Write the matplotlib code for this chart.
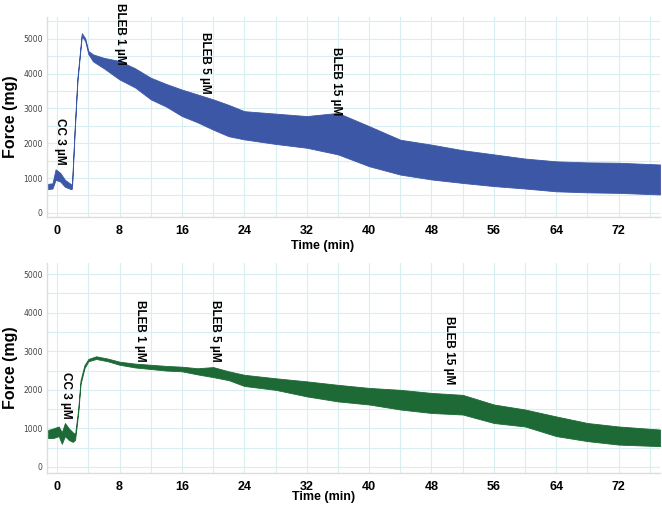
import matplotlib.pyplot as plt
from matplotlib.ticker import MultipleLocator

# top trace (blue): time (min), lower / upper envelope of the force signal (mg)
top_t = [-1.3, -0.6, -0.2, 0.4, 1.0, 1.8, 1.9, 2.23, 2.6, 3.16, 3.6, 4.0, 4.6,
         6, 8, 10, 12, 14, 16, 18, 20, 22, 24, 28, 32, 36, 40, 44, 48, 52,
         56, 60, 64, 68, 72, 77.3]
top_lo = [680, 700, 950, 900, 750, 680, 700, 2250, 3780, 5080, 4930, 4560, 4350,
          4150, 3830, 3600, 3260, 3050, 2780, 2600, 2390, 2200, 2110, 1980, 1870,
          1680, 1340, 1100, 960, 860, 770, 700, 620, 590, 575, 530]
top_hi = [830, 850, 1250, 1150, 950, 820, 800, 2350, 3880, 5160, 5010, 4650, 4550,
          4450, 4360, 4150, 3880, 3700, 3540, 3400, 3260, 3100, 2920, 2850, 2780,
          2870, 2490, 2100, 1960, 1800, 1680, 1560, 1480, 1450, 1440, 1390]

# bottom trace (green)
bot_t = [-1.3, -0.5, 0.2, 0.6, 1.0, 1.5, 2.0, 2.3, 2.7, 3.0, 3.5, 4.0, 5.0, 6.5,
         8, 10, 12, 14, 16, 18, 20, 22, 24, 28, 32, 36, 40, 44, 48, 52, 56, 60,
         64, 68, 72, 77.3]
bot_lo = [750, 750, 800, 600, 800, 700, 650, 700, 1400, 2150, 2560, 2740, 2800,
          2740, 2650, 2580, 2540, 2500, 2480, 2400, 2330, 2250, 2100, 2000, 1830,
          1700, 1620, 1490, 1400, 1360, 1140, 1050, 800, 670, 580, 540]
bot_hi = [950, 1000, 1050, 900, 1140, 1000, 900, 850, 1500, 2250, 2640, 2800, 2870,
          2810, 2730, 2680, 2650, 2620, 2600, 2560, 2590, 2480, 2390, 2300, 2220,
          2130, 2050, 2000, 1920, 1870, 1620, 1490, 1310, 1140, 1050, 970]

# drug additions: label, time, top of text (mg)
top_notes = [("CC 3 µM", 0.4, 2730), ("BLEB 1 µM", 8.1, 6030),
             ("BLEB 5 µM", 19.0, 5200), ("BLEB 15 µM", 35.8, 4770)]
bot_notes = [("CC 3 µM", 1.1, 2470), ("BLEB 1 µM", 10.6, 4330),
             ("BLEB 5 µM", 20.3, 4330), ("BLEB 15 µM", 50.3, 3910)]

BLUE = "#3b57a6"
GREEN = "#1d6a36"
GRID = "#d8eef0"
BOLD = "Liberation Sans"

fig = plt.figure(figsize=(6.62, 5.08), dpi=100)
ax1 = fig.add_axes([0.071, 0.573, 0.926, 0.394])
ax2 = fig.add_axes([0.071, 0.069, 0.926, 0.413])


def style(ax, ylim):
    ax.set_xlim(-1.3, 77.3)
    ax.set_ylim(*ylim)
    ax.xaxis.set_major_locator(MultipleLocator(8))
    ax.xaxis.set_minor_locator(MultipleLocator(4))
    ax.yaxis.set_major_locator(MultipleLocator(1000))
    ax.yaxis.set_minor_locator(MultipleLocator(500))
    ax.grid(True, which="both", color=GRID, lw=0.8)
    ax.set_axisbelow(True)
    for s in ["top", "right"]:
        ax.spines[s].set_visible(False)
    for s in ["left", "bottom"]:
        ax.spines[s].set_color("#dddddd")
        ax.spines[s].set_linewidth(1.0)
    ax.tick_params(which="both", length=0)
    ax.tick_params(axis="y", labelsize=5.5, labelcolor="#444444", pad=3)
    ax.tick_params(axis="x", pad=6)
    for lab in ax.get_xticklabels():
        lab.set_fontfamily(BOLD)
        lab.set_fontweight("bold")
        lab.set_fontsize(9)
    ax.set_ylabel("Force (mg)", fontfamily=BOLD, fontweight="bold", fontsize=11.5)
    ax.yaxis.set_label_coords(-0.048, 0.5)


style(ax1, (-115, 5630))
style(ax2, (-155, 5285))

ax1.fill_between(top_t, top_lo, top_hi, color=BLUE, lw=0.6, edgecolor=BLUE)
ax2.fill_between(bot_t, bot_lo, bot_hi, color=GREEN, lw=0.6, edgecolor=GREEN)

ax1.set_xlabel("Time (min)", fontfamily=BOLD, fontweight="bold", fontsize=9)
ax1.xaxis.set_label_coords(0.449, -0.115)
ax2.set_xlabel("Time (min)", fontfamily=BOLD, fontweight="bold", fontsize=9)
ax2.xaxis.set_label_coords(0.451, -0.085)

for ax, notes in [(ax1, top_notes), (ax2, bot_notes)]:
    for text, t, y in notes:
        ax.text(t, y, text, rotation=270, ha="center", va="top", fontfamily=BOLD,
                fontweight="bold", fontsize=8.5, clip_on=False)

fig.savefig("out.png", dpi=100)
